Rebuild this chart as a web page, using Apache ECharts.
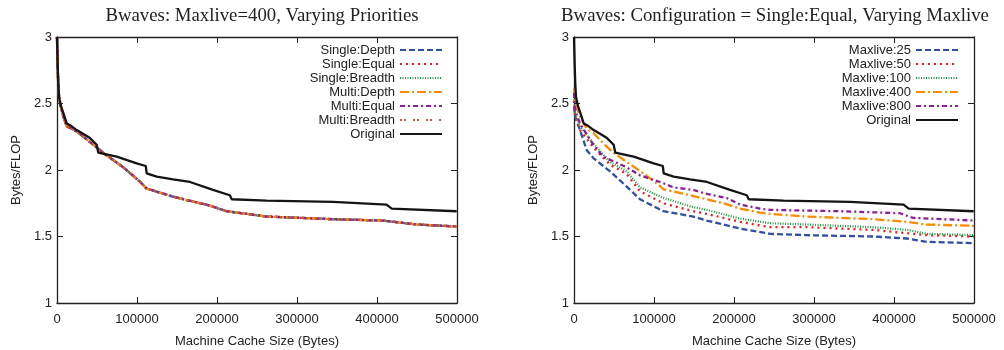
<!DOCTYPE html>
<html>
<head>
<meta charset="utf-8">
<script src="https://cdn.jsdelivr.net/npm/echarts@6/dist/echarts.min.js"></script>
<style>html,body{margin:0;padding:0;background:#fff}#c{width:1004px;height:350px}</style>
</head>
<body>
<div id="c"></div>
<script>
// ---------- tick values ----------
const X_TICKS = [0, 100000, 200000, 300000, 400000, 500000];
const Y_TICKS = [1, 1.5, 2, 2.5, 3];

// ---------- Original (same curve in both panels) ----------
const originalX = [0, 800, 1600, 2500, 5000, 7900, 12100, 18000, 24600, 33000, 41250, 49600, 51600, 60000, 74600, 99600, 111000, 112100, 124600, 145000, 166250, 195000, 216000, 218400, 262000, 345000, 412000, 418400, 499600];
const originalY = [3.0, 2.8, 2.65, 2.55, 2.48, 2.43, 2.35, 2.33, 2.30, 2.27, 2.24, 2.19, 2.13, 2.12, 2.10, 2.05, 2.03, 1.975, 1.95, 1.93, 1.91, 1.85, 1.81, 1.78, 1.77, 1.76, 1.74, 1.71, 1.69];

// ---------- Left panel: six priority variants (curves coincide) ----------
const priorityNames = ['Single:Depth', 'Single:Equal', 'Single:Breadth', 'Multi:Depth', 'Multi:Equal', 'Multi:Breadth'];
const priorityX = [0, 500, 1500, 3000, 8000, 12000, 24600, 41250, 62000, 83000, 104000, 112000, 145000, 178750, 187000, 212000, 262000, 345000, 407000, 450000, 500000];
const priorityY = [3.0, 2.85, 2.65, 2.52, 2.40, 2.33, 2.29, 2.21, 2.11, 2.02, 1.91, 1.86, 1.80, 1.75, 1.74, 1.69, 1.65, 1.63, 1.62, 1.59, 1.575];

// ---------- Right panel: varying maxlive ----------
const ml25X  = [0, 1500, 7500, 15900, 24100, 45000, 65900, 82500, 111600, 149100, 165900, 207500, 245000, 290900, 374100, 415900, 440900, 500000];
const ml25Y  = [2.48, 2.40, 2.30, 2.15, 2.09, 1.99, 1.875, 1.78, 1.69, 1.65, 1.62, 1.56, 1.52, 1.51, 1.50, 1.485, 1.46, 1.45];
const ml50X  = [0, 1500, 7500, 24100, 45000, 65900, 82500, 111600, 149100, 165900, 207500, 245000, 290900, 374100, 440900, 500000];
const ml50Y  = [2.52, 2.40, 2.30, 2.17, 2.04, 1.97, 1.84, 1.75, 1.69, 1.67, 1.61, 1.57, 1.57, 1.55, 1.51, 1.50];
const ml100X = [0, 1500, 7500, 24100, 45000, 65900, 82500, 111600, 149100, 165900, 207500, 245000, 290900, 374100, 415900, 440900, 500000];
const ml100Y = [2.55, 2.42, 2.33, 2.20, 2.06, 1.99, 1.87, 1.79, 1.72, 1.70, 1.635, 1.60, 1.59, 1.57, 1.55, 1.52, 1.51];
const ml400X = [0, 1500, 7500, 15900, 24100, 36600, 49100, 65900, 86600, 107500, 111600, 145000, 186600, 207500, 232500, 245000, 290900, 374100, 415900, 440900, 500000];
const ml400Y = [2.62, 2.50, 2.40, 2.31, 2.28, 2.20, 2.13, 2.06, 1.975, 1.88, 1.855, 1.81, 1.75, 1.71, 1.68, 1.67, 1.65, 1.63, 1.61, 1.59, 1.58];
const ml800X = [0, 1500, 7500, 24100, 36600, 65900, 82500, 107500, 124100, 149100, 165900, 190900, 207500, 232500, 245000, 332500, 407500, 423750, 500000];
const ml800Y = [2.58, 2.45, 2.35, 2.19, 2.10, 2.02, 1.96, 1.91, 1.87, 1.85, 1.82, 1.79, 1.74, 1.71, 1.70, 1.69, 1.675, 1.64, 1.62];

const maxliveNames = ['Maxlive:25', 'Maxlive:50', 'Maxlive:100', 'Maxlive:400', 'Maxlive:800'];

// ---------- styles ----------
const leftStyles = [
  {color: '#2f4fa8', type: [6, 3]},
  {color: '#f01c1c', type: [2, 4]},
  {color: '#1e9a3c', type: [1, 1.5]},
  {color: '#ff8a00', type: [9, 3, 2, 3]},
  {color: '#8e1f9a', type: [5, 3, 2, 3]},
  {color: '#c0603a', type: [2, 2, 2, 7]}
];
const rightStyles = leftStyles.slice(0, 5);

function zip(xs, ys) { return xs.map((x, i) => [x, ys[i]]); }

const SANS = 'Liberation Sans';
const SERIF = 'Liberation Serif';
const AXIS_COLOR = '#222';

function xAxes(grid) {
  const base = {
    type: 'value', gridIndex: grid,
    min: X_TICKS[0], max: X_TICKS[X_TICKS.length - 1], interval: X_TICKS[1] - X_TICKS[0],
    splitLine: {show: false},
    axisLine: {show: true, onZero: false, lineStyle: {color: AXIS_COLOR, width: 1.3}},
    axisTick: {show: true, inside: true, length: 6, lineStyle: {color: AXIS_COLOR, width: 1}}
  };
  return [
    Object.assign({}, base, {
      position: 'bottom',
      name: 'Machine Cache Size (Bytes)', nameLocation: 'middle', nameGap: 32,
      nameTextStyle: {fontFamily: SANS, fontSize: 13, color: '#222'},
      axisLabel: {margin: 10, fontFamily: SANS, fontSize: 13, color: '#222', formatter: v => String(v)}
    }),
    Object.assign({}, base, {position: 'top', axisLabel: {show: false}})
  ];
}
function yAxes(grid) {
  const base = {
    type: 'value', gridIndex: grid,
    min: Y_TICKS[0], max: Y_TICKS[Y_TICKS.length - 1], interval: Y_TICKS[1] - Y_TICKS[0],
    splitLine: {show: false},
    axisLine: {show: true, onZero: false, lineStyle: {color: AXIS_COLOR, width: 1.3}},
    axisTick: {show: true, inside: true, length: 6, lineStyle: {color: AXIS_COLOR, width: 1}}
  };
  return [
    Object.assign({}, base, {
      position: 'left',
      name: 'Bytes/FLOP', nameLocation: 'middle', nameGap: 34,
      nameTextStyle: {fontFamily: SANS, fontSize: 13, color: '#222'},
      axisLabel: {margin: 5, fontFamily: SANS, fontSize: 13, color: '#222', formatter: v => String(v)}
    }),
    Object.assign({}, base, {position: 'right', axisLabel: {show: false}})
  ];
}

function lineSeries(name, data, style, xi, yi, width) {
  return {
    name: name, type: 'line', data: data, xAxisIndex: xi, yAxisIndex: yi,
    symbol: 'none', smooth: false, clip: true,
    lineStyle: {color: style.color, type: style.type, width: width || 2.3},
    itemStyle: {color: style.color}
  };
}

const series = [];
priorityNames.forEach((n, i) => series.push(lineSeries(n, zip(priorityX, priorityY), leftStyles[i], 0, 0)));
series.push(lineSeries('Original', zip(originalX, originalY), {color: '#141414', type: 'solid'}, 0, 0, 2.3));
const mlData = [zip(ml25X, ml25Y), zip(ml50X, ml50Y), zip(ml100X, ml100Y), zip(ml400X, ml400Y), zip(ml800X, ml800Y)];
maxliveNames.forEach((n, i) => series.push(lineSeries(n, mlData[i], rightStyles[i], 2, 2)));
series.push(lineSeries('Original', zip(originalX, originalY), {color: '#141414', type: 'solid'}, 2, 2, 2.3));

const legendBase = {
  orient: 'vertical', align: 'right', itemWidth: 42, itemHeight: 14, itemGap: 0,
  padding: 0, top: 43, selectedMode: false,
  itemStyle: {opacity: 0},
  textStyle: {fontFamily: SANS, fontSize: 13, color: '#222', lineHeight: 14}
};

const chart = echarts.init(document.getElementById('c'), null, {renderer: 'canvas'});
chart.setOption({
  animation: false,
  backgroundColor: '#fff',
  title: [
    {text: 'Bwaves: Maxlive=400, Varying Priorities', left: 257, textAlign: 'center', top: 2,
     textStyle: {fontFamily: SERIF, fontSize: 18.8, fontWeight: 'normal', color: '#222'}},
    {text: 'Bwaves: Configuration = Single:Equal, Varying Maxlive', left: 770, textAlign: 'center', top: 2,
     textStyle: {fontFamily: SERIF, fontSize: 18.8, fontWeight: 'normal', color: '#222'}}
  ],
  grid: [
    {left: 57, top: 37, width: 400, height: 266, outerBoundsMode: 'none', containLabel: false},
    {left: 574, top: 37, width: 400, height: 266, outerBoundsMode: 'none', containLabel: false}
  ],
  xAxis: xAxes(0).concat(xAxes(1)),
  yAxis: yAxes(0).concat(yAxes(1)),
  legend: [
    Object.assign({}, legendBase, {right: 1004 - 443, data: priorityNames.concat(['Original'])}),
    Object.assign({}, legendBase, {right: 1004 - 959, data: maxliveNames.concat(['Original'])})
  ],
  series: series
});
</script>
</body>
</html>
